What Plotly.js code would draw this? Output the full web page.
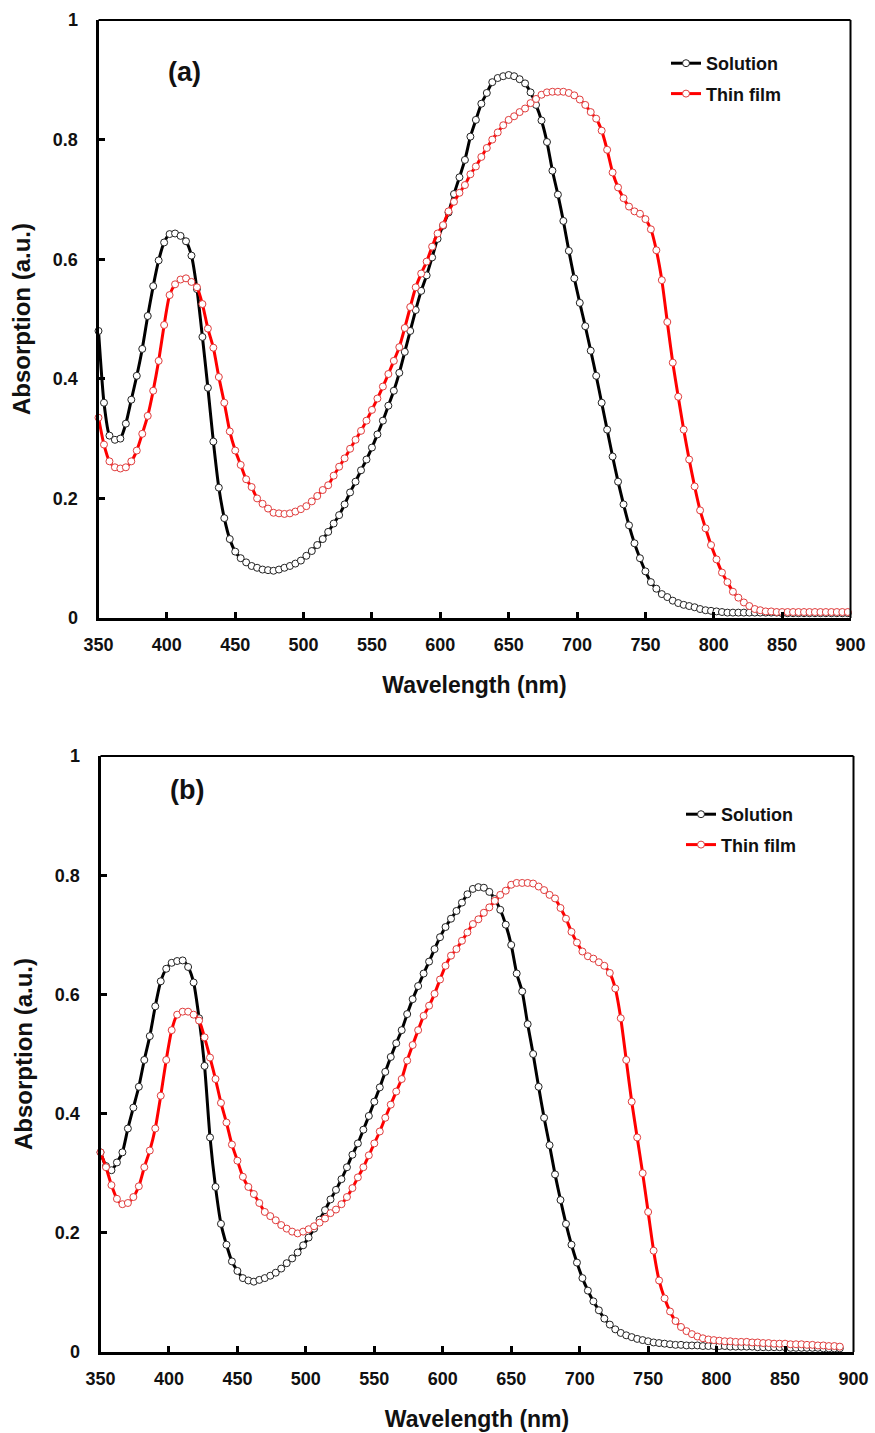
<!DOCTYPE html>
<html>
<head>
<meta charset="utf-8">
<script src="https://cdn.plot.ly/plotly-3.0.1.min.js"></script>
<style>
html,body{margin:0;padding:0;background:#fff;}
#chart{width:875px;height:1433px;}
</style>
</head>
<body>
<div id="chart"></div>
<script>
// ---------- data ----------
var seriesNames = ["Solution", "Thin film"];
var panelLabels = ["(a)", "(b)"];
var xTickVals = [350, 400, 450, 500, 550, 600, 650, 700, 750, 800, 850, 900];
var yTickVals = [0, 0.2, 0.4, 0.6, 0.8, 1];

// wavelength grid of panel (a), nm
var wlA = [350,354,358,362,366,370,374,378,382,386,390,394,398,402,406,410,414,418,422,426,
430,434,438,442,446,450,454,458,462,466,470,474,478,482,486,490,494,498,502,506,
510,514,518,522,526,530,534,538,542,546,550,554,558,562,566,570,574,578,582,586,
590,594,598,602,606,610,614,618,622,626,630,634,638,642,646,650,654,658,662,666,
670,674,678,682,686,690,694,698,702,706,710,714,718,722,726,730,734,738,742,746,
750,754,758,762,766,770,774,778,782,786,790,794,798,802,806,810,814,818,822,826,
830,834,838,842,846,850,854,858,862,866,870,874,878,882,886,890,894,898];

var solA = [0.480,0.360,0.305,0.298,0.300,0.325,0.365,0.405,0.450,0.505,0.555,0.598,0.628,0.642,0.643,0.639,0.630,0.606,0.550,0.470,
0.385,0.295,0.218,0.167,0.132,0.111,0.100,0.093,0.087,0.084,0.081,0.080,0.079,0.081,0.084,0.087,0.091,0.096,0.104,0.112,
0.122,0.132,0.144,0.158,0.172,0.190,0.210,0.228,0.247,0.265,0.285,0.307,0.330,0.355,0.380,0.410,0.445,0.480,0.515,0.547,
0.573,0.603,0.634,0.656,0.678,0.709,0.737,0.766,0.805,0.833,0.860,0.878,0.896,0.903,0.906,0.908,0.906,0.901,0.894,0.879,
0.858,0.832,0.796,0.748,0.708,0.664,0.614,0.568,0.527,0.488,0.447,0.405,0.360,0.315,0.270,0.228,0.190,0.155,0.125,0.100,
0.078,0.060,0.049,0.040,0.035,0.029,0.025,0.022,0.020,0.018,0.015,0.013,0.012,0.011,0.010,0.009,0.009,0.009,0.009,0.009,
0.009,0.009,0.009,0.009,0.009,0.008,0.008,0.008,0.008,0.008,0.008,0.008,0.008,0.008,0.008,0.008,0.008,0.008];

var filmA = [0.335,0.290,0.262,0.252,0.250,0.252,0.262,0.280,0.308,0.338,0.380,0.430,0.490,0.540,0.558,0.566,0.568,0.562,0.553,0.525,
0.484,0.452,0.403,0.360,0.312,0.280,0.256,0.232,0.219,0.200,0.191,0.183,0.176,0.175,0.174,0.175,0.178,0.182,0.187,0.195,
0.204,0.214,0.222,0.238,0.253,0.267,0.283,0.298,0.313,0.330,0.348,0.367,0.387,0.408,0.430,0.453,0.485,0.520,0.553,0.576,
0.596,0.621,0.643,0.657,0.680,0.696,0.711,0.724,0.742,0.755,0.771,0.786,0.800,0.812,0.824,0.833,0.839,0.846,0.852,0.861,
0.868,0.875,0.879,0.880,0.880,0.880,0.878,0.874,0.867,0.858,0.846,0.835,0.815,0.783,0.745,0.720,0.702,0.688,0.680,0.676,
0.667,0.650,0.615,0.565,0.495,0.427,0.370,0.315,0.265,0.220,0.180,0.150,0.122,0.098,0.076,0.060,0.044,0.034,0.026,0.020,
0.015,0.013,0.011,0.011,0.010,0.010,0.010,0.010,0.010,0.010,0.010,0.010,0.010,0.010,0.010,0.010,0.010,0.010];

// wavelength grid of panel (b), nm
var wlB = [350,354,358,362,366,370,374,378,382,386,390,394,398,402,406,410,414,418,422,426,
430,434,438,442,446,450,454,458,462,466,470,474,478,482,486,490,494,498,502,506,
510,514,518,522,526,530,534,538,542,546,550,554,558,562,566,570,574,578,582,586,
590,594,598,602,606,610,614,618,622,626,630,634,638,642,646,650,654,658,662,666,
670,674,678,682,686,690,694,698,702,706,710,714,718,722,726,730,734,738,742,746,
750,754,758,762,766,770,774,778,782,786,790,794,798,802,806,810,814,818,822,826,
830,834,838,842,846,850,854,858,862,866,870,874,878,882,886,890];

var solB = [0.335,0.312,0.305,0.318,0.335,0.375,0.410,0.445,0.490,0.530,0.580,0.622,0.643,0.653,0.656,0.657,0.646,0.620,0.560,0.480,
0.360,0.277,0.215,0.180,0.152,0.136,0.124,0.120,0.118,0.121,0.124,0.128,0.133,0.140,0.149,0.157,0.167,0.179,0.192,0.207,
0.222,0.238,0.256,0.272,0.290,0.310,0.331,0.350,0.373,0.396,0.420,0.444,0.470,0.495,0.518,0.540,0.567,0.592,0.614,0.635,
0.655,0.676,0.696,0.713,0.727,0.740,0.754,0.768,0.777,0.780,0.779,0.772,0.760,0.742,0.717,0.683,0.635,0.605,0.550,0.500,
0.445,0.393,0.347,0.298,0.255,0.215,0.180,0.150,0.124,0.103,0.085,0.070,0.056,0.046,0.038,0.032,0.028,0.025,0.022,0.020,
0.018,0.016,0.015,0.014,0.013,0.012,0.012,0.011,0.011,0.011,0.010,0.010,0.010,0.010,0.010,0.009,0.009,0.009,0.009,0.009,
0.008,0.008,0.008,0.008,0.008,0.008,0.007,0.007,0.007,0.007,0.007,0.007,0.006,0.006,0.006,0.006];

var filmB = [0.335,0.310,0.280,0.257,0.248,0.250,0.260,0.278,0.310,0.338,0.375,0.430,0.490,0.540,0.566,0.571,0.571,0.566,0.556,0.528,
0.494,0.458,0.418,0.385,0.348,0.321,0.294,0.277,0.265,0.250,0.235,0.228,0.221,0.213,0.207,0.202,0.199,0.202,0.206,0.211,
0.217,0.224,0.233,0.239,0.248,0.260,0.275,0.293,0.310,0.330,0.350,0.370,0.393,0.415,0.437,0.458,0.489,0.515,0.540,0.564,
0.581,0.601,0.625,0.648,0.665,0.676,0.690,0.704,0.718,0.726,0.737,0.746,0.757,0.767,0.774,0.784,0.787,0.787,0.787,0.786,
0.781,0.775,0.767,0.761,0.745,0.727,0.705,0.687,0.672,0.664,0.660,0.654,0.648,0.636,0.610,0.560,0.490,0.420,0.360,0.300,
0.235,0.170,0.120,0.090,0.068,0.052,0.042,0.035,0.030,0.026,0.023,0.021,0.020,0.019,0.018,0.018,0.017,0.017,0.017,0.016,
0.016,0.015,0.015,0.014,0.014,0.014,0.013,0.013,0.013,0.012,0.012,0.011,0.011,0.010,0.010,0.009];

// ---------- styling ----------
var FONT = "Liberation Sans, Arial, sans-serif";
var W = 875, H = 1433;
function fx(px){ return px / W; }
function fy(px){ return (H - px) / H; }

function trace(x, y, name, color, mcolor, xa, ya, leg, grp){
  return {
    type: "scatter", mode: "lines+markers", x: x, y: y, name: name,
    xaxis: xa, yaxis: ya, legend: leg, legendgroup: grp,
    cliponaxis: false,
    line: {color: color, width: 3, shape: "spline", smoothing: 0.6},
    marker: {symbol: "circle", size: 7, color: "#ffffff", line: {color: mcolor, width: 1}}
  };
}

var data = [
  trace(wlA, solA, seriesNames[0], "#000000", "#222222", "x", "y", "legend", "a1"),
  trace(wlA, filmA, seriesNames[1], "#ff0000", "#e03c3c", "x", "y", "legend", "a2"),
  trace(wlB, solB, seriesNames[0], "#000000", "#222222", "x2", "y2", "legend2", "b1"),
  trace(wlB, filmB, seriesNames[1], "#ff0000", "#e03c3c", "x2", "y2", "legend2", "b2")
];

var tickFont = {family: FONT, size: 18, color: "#111", weight: "bold"};
var xTitleFont = {family: FONT, size: 23, color: "#111", weight: "bold"};
var yTitleFont = {family: FONT, size: 24, color: "#111", weight: "bold"};

function xaxis(domain, anchor){
  return {
    domain: domain, anchor: anchor, range: [350, 900], tickmode: "array", tickvals: xTickVals,
    ticks: "inside", ticklen: 6, tickwidth: 3, tickcolor: "#000",
    showline: true, linewidth: 3, linecolor: "#000", mirror: false,
    showgrid: false, zeroline: false, tickfont: tickFont, ticklabelstandoff: 8,
    title: {text: "Wavelength (nm)", font: xTitleFont, standoff: 24}
  };
}
function yaxis(domain, anchor){
  return {
    domain: domain, anchor: anchor, range: [0, 1], tickmode: "array", tickvals: yTickVals,
    ticks: "inside", ticklen: 6, tickwidth: 3, tickcolor: "#000",
    showline: true, linewidth: 3, linecolor: "#000",
    showgrid: false, zeroline: false, tickfont: tickFont, ticklabelstandoff: 14,
    title: {text: "Absorption (a.u.)", font: yTitleFont, standoff: 16}
  };
}

function frame(xr, yr){
  return [
    {type: "line", xref: xr + " domain", yref: yr + " domain", x0: 0, x1: 1, y0: 1, y1: 1, line: {color: "#000", width: 2}},
    {type: "line", xref: xr + " domain", yref: yr + " domain", x0: 1, x1: 1, y0: 0, y1: 1, line: {color: "#000", width: 2}}
  ];
}

var legendFont = {family: FONT, size: 18, color: "#111", weight: "bold"};

var layout = {
  width: W, height: H,
  margin: {l: 0, r: 0, t: 0, b: 0},
  paper_bgcolor: "#fff", plot_bgcolor: "#fff",
  showlegend: true,
  xaxis: xaxis([fx(98.5), fx(850.5)], "y"),
  yaxis: yaxis([fy(618), fy(20)], "x"),
  xaxis2: xaxis([fx(100.5), fx(853.5)], "y2"),
  yaxis2: yaxis([fy(1352), fy(756)], "x2"),
  legend: {x: fx(666), y: fy(45), xanchor: "left", yanchor: "top", font: legendFont,
           bgcolor: "rgba(0,0,0,0)", itemwidth: 30, tracegroupgap: 4, traceorder: "grouped"},
  legend2: {x: fx(681), y: fy(796), xanchor: "left", yanchor: "top", font: legendFont,
            bgcolor: "rgba(0,0,0,0)", itemwidth: 30, tracegroupgap: 4, traceorder: "grouped"},
  shapes: frame("x", "y").concat(frame("x2", "y2")),
  annotations: [
    {xref: "x domain", yref: "y domain", x: 0.115, y: 0.913, xanchor: "center", yanchor: "middle",
     text: panelLabels[0], showarrow: false,
     font: {family: FONT, size: 27, color: "#111", weight: "bold"}},
    {xref: "x2 domain", yref: "y2 domain", x: 0.115, y: 0.943, xanchor: "center", yanchor: "middle",
     text: panelLabels[1], showarrow: false,
     font: {family: FONT, size: 27, color: "#111", weight: "bold"}}
  ]
};

Plotly.newPlot("chart", data, layout, {displayModeBar: false, staticPlot: true});
</script>
</body>
</html>
